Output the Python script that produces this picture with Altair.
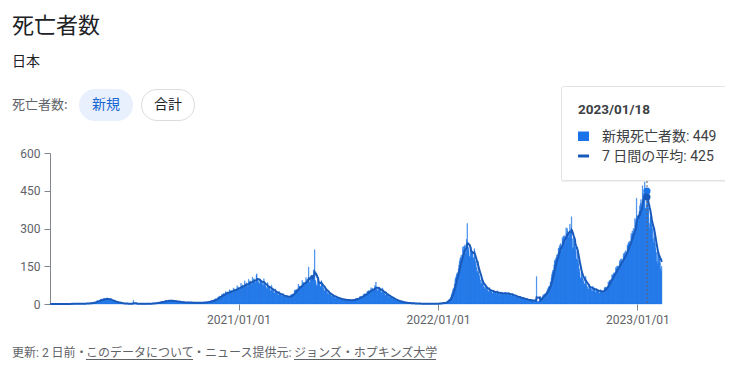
import altair as alt
import pandas as pd

# ---- daily new deaths, Japan, one row per week ----
deaths_2020 = [
    0, 0, 0, 0, 0, 0, 0,
    0, 0, 0, 0, 0, 0, 0,
    0, 0, 0, 0, 0, 0, 0,
    0, 1, 0, 0, 0, 0, 0,
    0, 1, 0, 0, 0, 0, 1,
    1, 0, 1, 0, 1, 0, 1,
    0, 1, 2, 1, 0, 1, 1,
    1, 0, 2, 1, 1, 0, 2,
    1, 2, 1, 0, 1, 2, 1,
    2, 3, 1, 2, 1, 2, 3,
    3, 2, 4, 3, 2, 3, 4,
    5, 6, 7, 6, 4, 5, 8,
    10, 12, 14, 11, 9, 10, 15,
    16, 18, 20, 17, 13, 14, 21,
    20, 23, 19, 22, 16, 15, 25,
    18, 21, 19, 17, 15, 14, 22,
    14, 13, 12, 11, 9, 10, 13,
    8, 9, 7, 6, 5, 6, 8,
    5, 4, 5, 3, 3, 2, 4,
    3, 2, 2, 1, 2, 1, 3,
    1, 2, 1, 0, 1, 1, 2,
    1, 1, 2, 0, 1, 15, 1,
    1, 1, 0, 1, 0, 1, 2,
    1, 0, 1, 0, 1, 0, 1,
    0, 1, 1, 0, 0, 1, 1,
    1, 1, 0, 1, 0, 1, 2,
    2, 1, 2, 1, 1, 2, 3,
    2, 3, 4, 3, 2, 3, 4,
    5, 6, 7, 6, 4, 5, 8,
    9, 10, 8, 9, 7, 8, 12,
    12, 14, 13, 11, 9, 10, 15,
    14, 16, 13, 12, 10, 11, 16,
    12, 13, 11, 10, 9, 8, 14,
    10, 9, 11, 8, 7, 6, 12,
    8, 7, 8, 6, 5, 6, 9,
    7, 6, 6, 5, 4, 5, 8,
    6, 7, 5, 6, 4, 5, 7,
    6, 5, 6, 4, 3, 4, 7,
    5, 6, 5, 4, 4, 3, 6,
    6, 5, 4, 5, 3, 4, 7,
    7, 6, 7, 5, 4, 5, 8,
    9, 8, 10, 8, 7, 9, 12,
    12, 13, 14, 12, 10, 12, 18,
    18, 20, 21, 19, 16, 18, 28,
    27, 29, 32, 30, 26, 28, 38,
    36, 39, 42, 40, 35, 38, 50,
    44, 46, 48, 45, 40, 42, 57,
    50, 52, 54, 50, 46, 48, 64,
    55, 58, 60, 56, 50, 54, 73,
    62, 64,
]

deaths_2021 = [
    68, 63, 56, 60, 82,
    70, 72, 76, 70, 63, 68, 92,
    78, 80, 84, 76, 70, 74, 98,
    85, 90, 92, 84, 76, 82, 107,
    92, 98, 100, 90, 82, 88, 115,
    120, 100, 96, 88, 80, 82, 99,
    96, 94, 88, 82, 74, 75, 100,
    82, 80, 74, 68, 60, 62, 85,
    70, 68, 64, 58, 52, 54, 75,
    58, 57, 53, 48, 43, 45, 60,
    48, 47, 44, 40, 35, 37, 50,
    40, 39, 37, 33, 30, 31, 42,
    33, 32, 31, 28, 25, 26, 35,
    30, 31, 29, 27, 24, 26, 36,
    36, 38, 40, 38, 34, 38, 56,
    52, 55, 58, 56, 50, 56, 79,
    66, 70, 72, 70, 62, 70, 94,
    80, 84, 86, 84, 74, 82, 105,
    92, 96, 98, 95, 147, 84, 88,
    108, 112, 115, 110, 98, 105, 136,
    110, 216, 95, 88, 75, 70, 81,
    100, 96, 88, 80, 70, 68, 93,
    78, 74, 68, 62, 54, 52, 67,
    58, 55, 50, 46, 40, 38, 49,
    43, 41, 38, 34, 30, 29, 37,
    33, 32, 29, 27, 23, 22, 30,
    26, 25, 23, 21, 18, 17, 24,
    21, 20, 19, 17, 15, 14, 20,
    18, 18, 17, 15, 13, 13, 18,
    16, 17, 16, 14, 12, 13, 17,
    16, 18, 17, 16, 14, 16, 22,
    20, 22, 23, 21, 18, 21, 29,
    27, 30, 31, 29, 25, 29, 39,
    36, 40, 41, 39, 34, 39, 51,
    48, 52, 54, 50, 45, 50, 65,
    56, 60, 62, 58, 52, 58, 74,
    60, 87, 62, 58, 52, 54, 68,
    62, 60, 56, 52, 45, 46, 64,
    48, 46, 43, 40, 35, 34, 48,
    37, 36, 33, 30, 26, 26, 36,
    27, 26, 24, 22, 19, 18, 25,
    18, 17, 16, 14, 12, 11, 17,
    12, 11, 10, 9, 8, 8, 12,
    7, 7, 6, 5, 5, 4, 8,
    5, 4, 4, 3, 3, 3, 6,
    3, 4, 3, 2, 2, 2, 5,
    2, 3, 2, 1, 1, 2, 3,
    2, 2, 1, 1, 1, 1, 3,
    1, 2, 1, 0, 1, 1, 2,
    1, 1, 2, 0, 1, 0, 1,
    1, 2, 0, 1, 1, 0, 2,
    1, 1, 1, 0, 1, 1, 2,
    2, 2, 1,
]

deaths_2022 = [
    1, 1, 2, 3,
    3, 3, 4, 3, 3, 4, 6,
    4, 5, 6, 6, 7, 9, 12,
    14, 16, 18, 20, 22, 28, 36,
    42, 50, 58, 62, 65, 80, 98,
    105, 112, 120, 125, 118, 140, 155,
    170, 180, 185, 195, 170, 190, 226,
    215, 230, 228, 235, 200, 210, 257,
    320, 235, 225, 215, 190, 185, 205,
    225, 215, 210, 200, 180, 185, 220,
    185, 170, 160, 145, 125, 130, 170,
    125, 115, 105, 95, 80, 82, 98,
    85, 80, 72, 68, 60, 62, 77,
    66, 64, 58, 55, 48, 50, 65,
    56, 56, 50, 48, 42, 44, 54,
    52, 52, 46, 44, 40, 42, 53,
    46, 48, 43, 42, 36, 38, 48,
    44, 46, 42, 40, 35, 37, 47,
    45, 46, 41, 40, 35, 36, 46,
    41, 42, 38, 36, 32, 33, 42,
    35, 36, 32, 30, 26, 28, 36,
    29, 30, 27, 25, 22, 24, 31,
    24, 25, 22, 21, 18, 19, 25,
    20, 21, 18, 17, 14, 15, 20,
    16, 17, 15, 14, 12, 13, 17,
    14, 15, 13, 12, 11, 12, 15,
    12, 109, 11, 10, 9, 10, 13,
    20, 22, 24, 25, 24, 30, 37,
    34, 38, 40, 42, 40, 48, 52,
    58, 62, 68, 72, 70, 85, 89,
    105, 118, 128, 135, 130, 155, 174,
    168, 180, 185, 195, 180, 200, 222,
    220, 230, 235, 240, 210, 225, 264,
    255, 270, 265, 272, 240, 250, 303,
    280, 300, 290, 285, 262, 275, 317,
    290, 285, 347, 260, 220, 225, 263,
    250, 240, 225, 210, 180, 175, 225,
    175, 160, 140, 125, 105, 100, 147,
    115, 105, 98, 90, 78, 80, 99,
    110, 80, 72, 68, 58, 60, 77,
    72, 70, 64, 60, 52, 52, 71,
    62, 64, 57, 54, 46, 48, 61,
    56, 58, 52, 48, 42, 44, 57,
    50, 55, 52, 50, 44, 47, 66,
    62, 66, 68, 66, 58, 68, 88,
    85, 90, 95, 96, 85, 98, 116,
    112, 118, 122, 125, 110, 122, 145,
    140, 150, 148, 152, 135, 146, 172,
    165, 178, 172, 180, 160, 170, 200,
    190, 205, 200, 212, 188, 205, 235,
    230, 245, 240, 250, 225, 245, 280,
    270, 290, 280, 300, 265, 285, 340,
    315, 335, 420, 350,
]

deaths_2023 = [
    320, 345, 330,
    370, 390, 400, 415, 360, 395, 470,
    440, 430, 455, 485, 380, 380, 396,
    449, 420, 413, 380, 320, 300, 343,
    350, 330, 315, 300, 260, 245, 300,
    265, 240, 220, 205, 170, 160, 210,
    210, 195, 180, 165, 140, 130, 150,
]

first_day = "2020-01-22"
last_day_end = "2023-02-15"
x_tick_dates = ["2021-01-01", "2022-01-01", "2023-01-01"]
y_ticks = [0, 150, 300, 450, 600]

hover_date = "2023-01-18"
hover_new = 449
hover_avg = 425

title_text = "死亡者数"
region_text = "日本"
selector_label = "死亡者数:"
chip_labels = ["新規", "合計"]
footer_parts = ["更新: 2 日前・", "このデータについて", "・ニュース提供元: ", "ジョンズ・ホプキンズ大学"]

# ---- styling ----
BAR = "#1a73e8"
LINE = "#185abc"
GRAY = "#5f6368"
DARK = "#202124"
AXIS = "#80868b"
JP = "Noto Sans CJK JP"
MIX = "Roboto, 'Noto Sans CJK JP'"
W, H = 612, 151

daily = deaths_2020 + deaths_2021 + deaths_2022 + deaths_2023
dates = pd.date_range(first_day, periods=len(daily), freq="D")
df = pd.DataFrame({
    "date": dates,
    "end": dates + pd.Timedelta(days=1),
    "mid": dates + pd.Timedelta(hours=12),
    "new": daily,
})


def dt(s):
    t = pd.Timestamp(s)
    return alt.DateTime(year=t.year, month=t.month, date=t.day)


xscale = alt.Scale(domain=[dt(first_day), dt(last_day_end)], padding=0)
xaxis = alt.Axis(values=[dt(d) for d in x_tick_dates], format="%Y/%m/%d", domain=False,
                 grid=False, tickColor=AXIS, tickSize=6, labelPadding=4, labelColor=GRAY,
                 labelFontSize=12, labelFont="Roboto", title=None)
yscale = alt.Scale(domain=[0, 600], nice=False, padding=0)
yaxis = alt.Axis(values=y_ticks, grid=False, domain=True, domainColor=AXIS, tickColor=AXIS,
                 tickSize=6, labelPadding=4, labelColor=GRAY, labelFontSize=12,
                 labelFont="Roboto", title=None)

base = alt.Chart(df)
bars = base.mark_rect(color=BAR, stroke=BAR, strokeWidth=0.35).encode(
    x=alt.X("date:T", scale=xscale, axis=xaxis, title=None),
    x2="end:T",
    y=alt.Y("new:Q", scale=yscale, axis=yaxis, title=None),
    y2=alt.datum(0),
)
line = base.transform_window(
    avg="mean(new)", frame=[-6, 0], sort=[alt.SortField("date")]
).mark_line(color=LINE, strokeWidth=2).encode(
    x=alt.X("mid:T", scale=xscale, axis=xaxis, title=None),
    y=alt.Y("avg:Q", scale=yscale, axis=yaxis, title=None),
)

hover_df = pd.DataFrame({
    "mid": [pd.Timestamp(hover_date) + pd.Timedelta(hours=12)],
    "new": [hover_new],
    "avg": [hover_avg],
})
hx = alt.X("mid:T", scale=xscale, axis=xaxis, title=None)
hrule = alt.Chart(hover_df).mark_rule(color=GRAY, strokeDash=[2, 2], strokeWidth=1).encode(
    x=hx, y=alt.value(0), y2=alt.value(H))
hdot1 = alt.Chart(hover_df).mark_point(filled=True, size=50, color=BAR, opacity=1).encode(
    x=hx, y=alt.Y("new:Q", scale=yscale, axis=yaxis, title=None))
hdot2 = alt.Chart(hover_df).mark_point(filled=True, size=50, color=LINE, opacity=1).encode(
    x=hx, y=alt.Y("avg:Q", scale=yscale, axis=yaxis, title=None))


def txt(s, x, y, size, color, weight="normal", align="left", font=JP):
    return alt.Chart(alt.Data(values=[{"t": s}])).mark_text(
        align=align, baseline="middle", fontSize=size, color=color,
        fontWeight=weight, font=font,
    ).encode(text="t:N", x=alt.value(x), y=alt.value(y))


def box(x, x2, y, y2, fill, stroke=None, radius=0, opacity=1.0):
    kw = dict(fill=fill, cornerRadius=radius, opacity=opacity)
    if stroke:
        kw.update(stroke=stroke, strokeWidth=1)
    return alt.Chart(alt.Data(values=[{}])).mark_rect(**kw).encode(
        x=alt.value(x), x2=alt.value(x2), y=alt.value(y), y2=alt.value(y2))


def hline(x, x2, y, color, width=1):
    return alt.Chart(alt.Data(values=[{}])).mark_rule(color=color, strokeWidth=width).encode(
        x=alt.value(x), x2=alt.value(x2), y=alt.value(y))


# offsets: plot origin sits at page (50, 153)
OX, OY = 50, 153

decor = [
    # header
    txt(title_text, 12 - OX, 26 - OY, 22, DARK),
    txt(region_text, 12 - OX, 62 - OY, 14, DARK),
    txt(selector_label, 12 - OX, 105 - OY, 13, GRAY),
    box(79 - OX, 133 - OX, 89 - OY, 121 - OY, "#e8f0fe", radius=16),
    txt(chip_labels[0], 106 - OX, 105 - OY, 14, "#1967d2", align="center"),
    box(141.5 - OX, 194.5 - OX, 89.5 - OY, 120.5 - OY, "#ffffff", stroke="#dadce0", radius=16),
    txt(chip_labels[1], 168 - OX, 105 - OY, 14, DARK, align="center"),
    # footer
    txt(footer_parts[0], 12 - OX, 352.5 - OY, 12, GRAY, font=MIX),
    txt(footer_parts[1], 86 - OX, 352.5 - OY, 12, GRAY, font=MIX),
    txt(footer_parts[2], 193 - OX, 352.5 - OY, 12, GRAY, font=MIX),
    txt(footer_parts[3], 294 - OX, 352.5 - OY, 12, GRAY, font=MIX),
    hline(86 - OX, 193 - OX, 359.5 - OY, GRAY),
    hline(294 - OX, 436 - OX, 359.5 - OY, GRAY),
    # tooltip
    box(561 - OX, 740 - OX, 87 - OY, 182 - OY, "#000000", radius=2, opacity=0.06),
    box(561.5 - OX, 739.5 - OX, 86.5 - OY, 180.5 - OY, "#ffffff", stroke="#e3e3e3", radius=2),
    txt(hover_date.replace("-", "/"), 578 - OX, 110 - OY, 13.5, "#3c4043", weight="bold", font=MIX),
    box(578 - OX, 589 - OX, 131.5 - OY, 141 - OY, BAR),
    txt(f"新規死亡者数: {hover_new}", 602 - OX, 136.5 - OY, 14, "#3c4043", font=MIX),
    hline(578 - OX, 589 - OX, 156 - OY, LINE, width=3),
    txt(f"7 日間の平均: {hover_avg}", 602 - OX, 156.5 - OY, 14, "#3c4043", font=MIX),
]

# total svg: 717 x 352 so that the page (with its 8px margins) does not overflow
chart = alt.layer(bars, line, hrule, hdot1, hdot2, *decor).properties(
    width=W, height=H,
    padding={"left": 42, "top": 145, "right": 63, "bottom": 56},
    autosize=alt.AutoSizeParams(type="none"),
    background="white",
).configure_view(stroke=None)

chart.save("out.html", embed_options={"renderer": "svg", "actions": False})
